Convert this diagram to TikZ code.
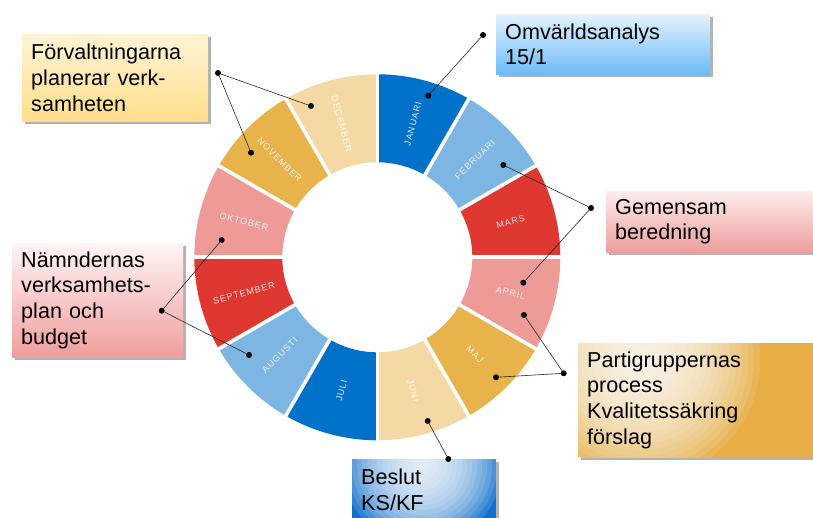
\documentclass[tikz,border=0pt]{standalone}
\usepackage{fontspec}
\setmainfont{Liberation Sans}
\newfontfamily\monthfont[LetterSpace=11]{Liberation Sans}
\usetikzlibrary{shadows}
\definecolor{dblue}{HTML}{0071C9}
\definecolor{lblue}{HTML}{7DB5E3}
\definecolor{mred}{HTML}{DE3831}
\definecolor{mpink}{HTML}{EE9B97}
\definecolor{morange}{HTML}{E8B34B}
\definecolor{mbeige}{HTML}{F4D9A4}
\definecolor{ytop}{HTML}{FFF4D6}
\definecolor{ybot}{HTML}{FFDE8A}
\definecolor{btop}{HTML}{E3F2FF}
\definecolor{bbot}{HTML}{6DBBF7}
\definecolor{ptop}{HTML}{FCEDEC}
\definecolor{pbot}{HTML}{EE9E9C}
\definecolor{ptop2}{HTML}{FFF5F5}
\definecolor{oglow}{HTML}{FFFFFF}
\definecolor{obox}{HTML}{E6AE45}
\definecolor{bglow}{HTML}{FFFFFF}
\definecolor{bbox}{HTML}{1270CC}
\begin{document}
\begin{tikzpicture}[x=1pt,y=1pt,
  dot/.style={circle, fill=black, inner sep=0pt, minimum size=6pt},
  conn/.style={draw=black!85, line width=0.6pt},
  callout/.style={anchor=north west, inner xsep=9pt, inner ysep=0pt, align=left,
    font=\fontsize{21.6}{25.8}\selectfont, text=black,
    drop shadow={shadow xshift=2.5pt, shadow yshift=-2.5pt, opacity=0.3, fill=black}},
  month/.style={font=\monthfont\fontsize{9}{10}\selectfont, text=white, text opacity=0.85, inner sep=0pt}
]
\clip (0,0) rectangle (813,518);

% ring
\begin{scope}[shift={(377.3,260.7)}]
\foreach \i/\c in {0/dblue,1/lblue,2/mred,3/mpink,4/morange,5/mbeige,6/dblue,7/lblue,8/mred,9/mpink,10/morange,11/mbeige}{
  \pgfmathsetmacro\a{90-30*\i}
  \pgfmathsetmacro\b{60-30*\i}
  \fill[\c] (\a:95pt) -- (\a:183pt) arc[start angle=\a, end angle=\b, radius=183pt]
    -- (\b:95pt) arc[start angle=\b, end angle=\a, radius=95pt] -- cycle;
}
\foreach \i in {0,...,11} \draw[white, line width=3.6pt] (30*\i:90pt) -- (30*\i:190pt);
\node[month, rotate=75]  (mJan) at (75:138pt)   {JANUARI};
\node[month, rotate=45]  (mFeb) at (45:138pt)   {FEBRUARI};
\node[month, rotate=15]  (mMar) at (15:138pt)   {MARS};
\node[month, rotate=-15] (mApr) at (-15:138pt)  {APRIL};
\node[month, rotate=-45] (mMaj) at (-45:138pt)  {MAJ};
\node[month, rotate=-75] (mJun) at (-75:138pt)  {JUNI};
\node[month, rotate=75]  (mJul) at (-105:138pt) {JULI};
\node[month, rotate=45]  (mAug) at (-135:138pt) {AUGUSTI};
\node[month, rotate=15]  (mSep) at (-165:138pt) {SEPTEMBER};
\node[month, rotate=-15] (mOkt) at (165:138pt)  {OKTOBER};
\node[month, rotate=-45] (mNov) at (135:138pt)  {NOVEMBER};
\node[month, rotate=-75] (mDec) at (105:138pt)  {DECEMBER};
\end{scope}

% callout boxes
\node[callout, top color=ytop, bottom color=ybot, minimum height=87pt, text width=168pt]
  (bF) at (22,484) {Förvaltningarna\\planerar verk-\\samheten};
\node[callout, top color=btop, bottom color=bbot, minimum height=60pt, text width=196pt]
  (bO) at (496,504) {Omvärldsanalys\\15/1};
\node[callout, top color=ptop, bottom color=pbot, minimum height=61pt, text width=212pt]
  (bG) at (606,327) {Gemensam\\beredning};
\node[callout, top color=ptop2, bottom color=pbot, minimum height=114pt, text width=153pt]
  (bN) at (12,275) {Nämndernas\\verksamhets-\\plan och\\budget};
\node[callout, fill=obox, minimum height=114pt, text width=232pt,
  path picture={\foreach \r in {6,12,...,120}
    \fill[oglow, opacity=0.1] ([xshift=62pt,yshift=-17pt]path picture bounding box.north west) circle (\r pt);}]
  (bP) at (578,175) {Partigruppernas\\process\\Kvalitetssäkring\\förslag};
\node[callout, fill=bbox, minimum height=61pt, text width=126pt,
  path picture={\foreach \r in {5,10,...,80}
    \fill[bglow, opacity=0.13] ([xshift=70pt,yshift=-6pt]path picture bounding box.north west) circle (\r pt);}]
  (bB) at (352,59) {Beslut\\KS/KF};

% dots
\node[dot] (dF) at (218,445) {};
\node[dot] (dDec) at (311,412) {};
\node[dot] (dNov) at (251,365.3) {};
\node[dot] (dO) at (483,483) {};
\node[dot] (dJan) at (428.3,422.3) {};
\node[dot] (dG) at (591,310) {};
\node[dot] (dFeb) at (503.3,353) {};
\node[dot] (dApr1) at (523.3,235.3) {};
\node[dot] (dN) at (161.7,207.3) {};
\node[dot] (dOkt) at (221.7,278) {};
\node[dot] (dAug) at (249,163) {};
\node[dot] (dP) at (563.7,144.7) {};
\node[dot] (dApr2) at (524,203) {};
\node[dot] (dMaj) at (496,140.7) {};
\node[dot] (dB) at (448.3,59) {};
\node[dot] (dJun) at (427.7,97) {};

% connectors
\draw[conn] (dF) -- (dDec);
\draw[conn] (dF) -- (dNov);
\draw[conn] (dO) -- (dJan);
\draw[conn] (dG) -- (dFeb);
\draw[conn] (dG) -- (dApr1);
\draw[conn] (dN) -- (dOkt);
\draw[conn] (dN) -- (dAug);
\draw[conn] (dP) -- (dApr2);
\draw[conn] (dP) -- (dMaj);
\draw[conn] (dB) -- (dJun);
\end{tikzpicture}
\end{document}
